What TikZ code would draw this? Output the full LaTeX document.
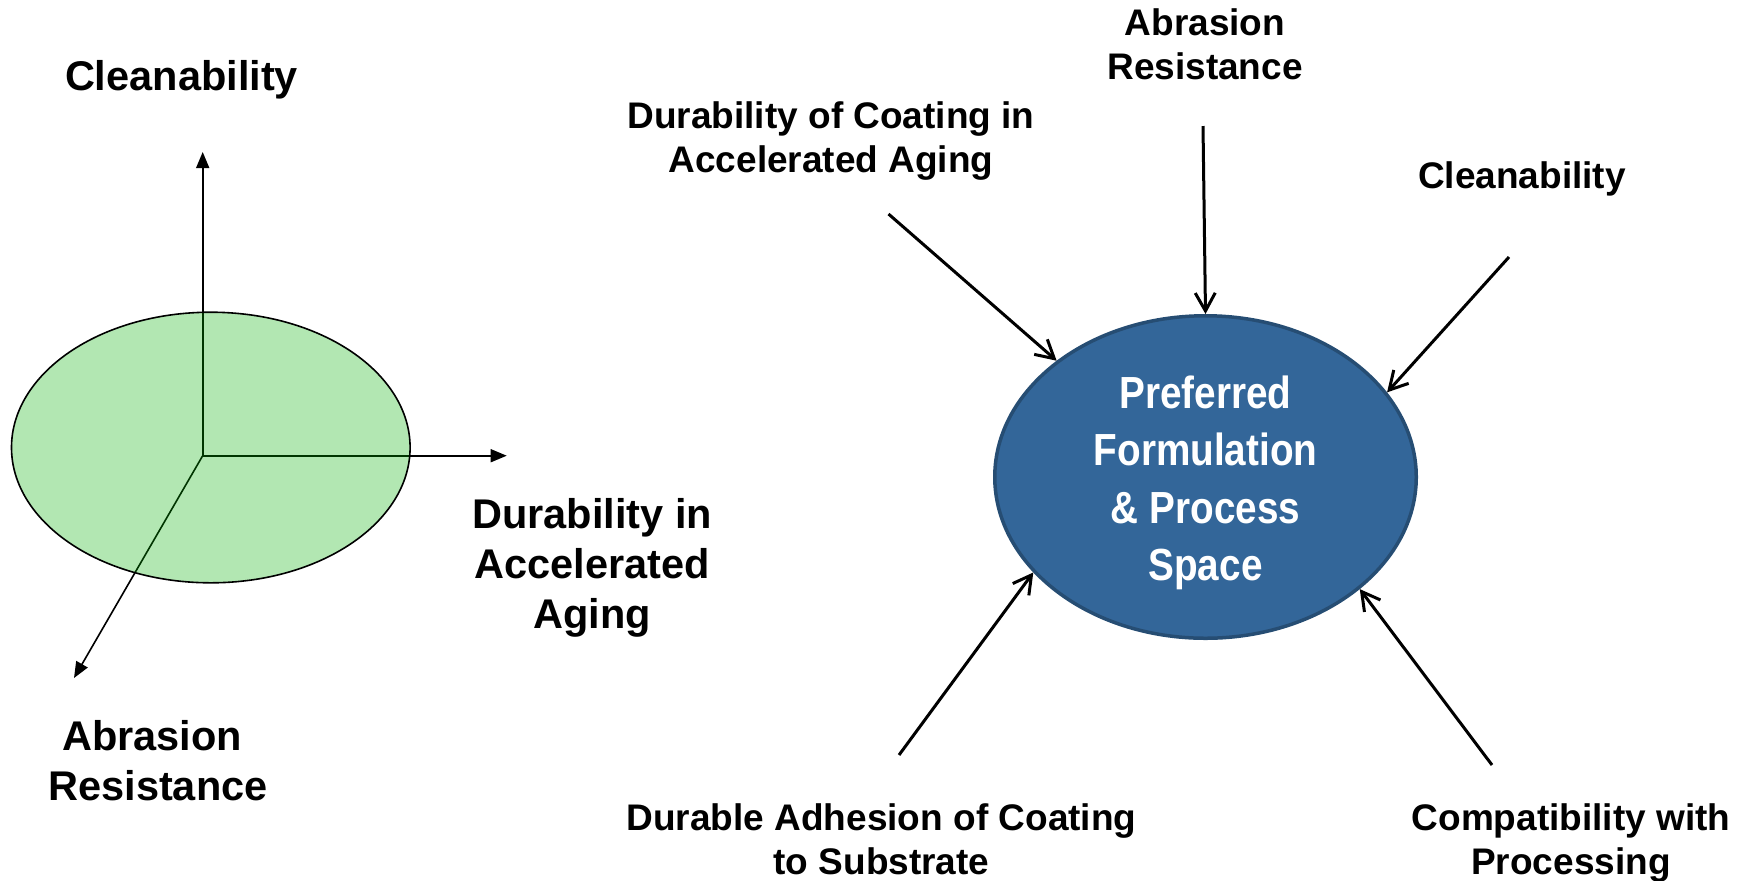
\documentclass[tikz,border=0pt]{standalone}
\usepackage{fontspec}
\setmainfont{Liberation Sans}
\newfontfamily\narrowfont[FakeStretch=0.86]{Liberation Sans}
\usetikzlibrary{arrows.meta,shapes.geometric}
\definecolor{leaf}{RGB}{0,176,0}
\definecolor{spacefill}{RGB}{51,102,153}
\definecolor{spaceedge}{RGB}{38,77,115}
\tikzset{
  leftlbl/.style={font=\bfseries\fontsize{20.75pt}{25pt}\selectfont, align=center, anchor=base, inner sep=0pt},
  rightlbl/.style={font=\bfseries\fontsize{18.5pt}{22pt}\selectfont, align=center, anchor=base, inner sep=0pt},
  axisarrow/.style={line width=0.8pt, -{Triangle[length=8pt,width=6.5pt]}},
  feed/.style={line width=1.5pt, -{Straight Barb[length=9pt,width=10pt]}},
  plane/.style={ellipse, draw=black, line width=0.8pt, fill=leaf, fill opacity=0.3, inner sep=0pt,
    minimum width=199.3pt, minimum height=135.3pt},
  spaceshape/.style={ellipse, draw=spaceedge, line width=1.75pt, fill=spacefill, inner sep=0pt,
    minimum width=210.75pt, minimum height=161.25pt},
  spacetxt/.style={font=\narrowfont\bfseries\fontsize{22.5pt}{28.75pt}\selectfont, text=white, align=center, inner sep=0pt}
}
\begin{document}
\begin{tikzpicture}[x=0.5pt,y=-0.5pt]
\useasboundingbox (0,0) rectangle (1748,880);

% ---------- left: three axes and plane ----------
\coordinate (o) at (202.7,455.7);
\coordinate (upTip) at (202.7,152);
\coordinate (rightTip) at (506.7,455.7);
\coordinate (diagTip) at (74,678);
\draw[axisarrow] (o) -- (upTip);
\draw[axisarrow] (o) -- (rightTip);
\draw[axisarrow] (o) -- (diagTip);
\node[plane] (pl) at (210.8,447.5) {};

% multi-line nodes: base anchor = baseline of the last line
\node[leftlbl] (lclean) at (181.5,90) {Cleanability};
\node[leftlbl] (ldur) at (592,628) {Durability in\\Accelerated\\Aging};
\node[leftlbl] (labr) at (158,800) {Abrasion\kern0.278em\\Resistance};

% ---------- right: preferred space ----------
\node[spaceshape] (ell) at (1205.5,477) {};
\node[spacetxt] (etext) at (1205.5,483) {Preferred\\Formulation\\\&~Process\\Space};

\node[rightlbl] (rabr) at (1205,79) {Abrasion\\Resistance};
\node[rightlbl] (rdur) at (831,172) {Durability of Coating in\\Accelerated Aging};
\node[rightlbl] (rclean) at (1522,188) {Cleanability};
\node[rightlbl] (radh) at (881.5,874) {Durable Adhesion of Coating\\to Substrate};
\node[rightlbl] (rcomp) at (1571,874) {Compatibility with\\Processing};

\coordinate (s1) at (888.5,214);
\coordinate (s2) at (1203,126);
\coordinate (s3) at (1509,257);
\coordinate (s4) at (899,755);
\coordinate (s5) at (1492,765);
\draw[feed] (s1) -- (ell.142.4);
\draw[feed] (s2) -- (ell.90);
\draw[feed] (s3) -- (ell.25.9);
\draw[feed] (s4) -- (ell.209.7);
\draw[feed] (s5) -- (ell.324.7);
\end{tikzpicture}
\end{document}
